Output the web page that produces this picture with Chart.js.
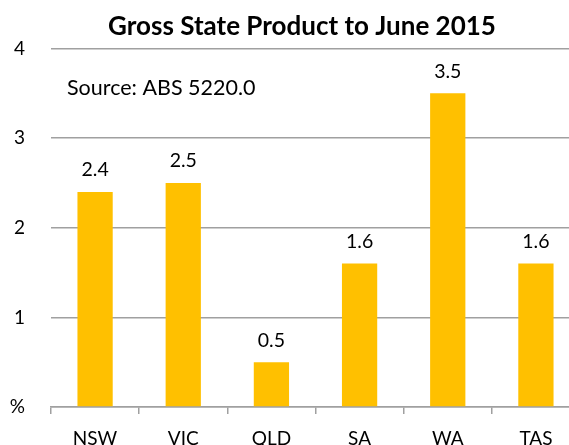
<!DOCTYPE html>
<html>
<head>
<meta charset="utf-8">
<script src="https://cdn.jsdelivr.net/npm/chart.js@4"></script>
<style>
  html, body { margin: 0; padding: 0; background: #fff; overflow: hidden; }
  #wrap { width: 582px; height: 445px; }
</style>
</head>
<body>
<div id="wrap"><canvas id="gsp" width="582" height="445"></canvas></div>
<script>
// Gross State Product to June 2015, % growth
const states = ['NSW', 'VIC', 'QLD', 'SA', 'WA', 'TAS'];
const growth = [2.4, 2.5, 0.5, 1.6, 3.5, 1.6];
const yTicks = [0, 1, 2, 3, 4];
const yTickText = ['%', '1', '2', '3', '4'];
const chartTitle = 'Gross State Product to June 2015';
const sourceNote = 'Source: ABS 5220.0';

const FONT = 'Lato, "Open Sans", sans-serif';
const GREY = '#a0a0a0';

// title, value labels above each bar, source note inside the plot
const labelsPlugin = {
  id: 'barLabels',
  afterDatasetsDraw(chart) {
    const ctx = chart.ctx;
    const meta = chart.getDatasetMeta(0);
    ctx.save();
    ctx.fillStyle = '#000';
    ctx.font = '19.5px ' + FONT;
    ctx.textAlign = 'center';
    ctx.textBaseline = 'bottom';
    meta.data.forEach((bar, i) => {
      ctx.fillText(growth[i].toFixed(1), bar.x, bar.y - 12);
    });
    const a = chart.chartArea;
    ctx.font = '21.5px ' + FONT;
    ctx.textAlign = 'left';
    ctx.textBaseline = 'middle';
    ctx.fillText(sourceNote, a.left + 16, a.top + 40);

    ctx.font = 'bold 26px ' + FONT;
    ctx.textAlign = 'center';
    ctx.fillText(chartTitle, 302, 27);
    ctx.restore();
  }
};

new Chart(document.getElementById('gsp'), {
  type: 'bar',
  data: {
    labels: states,
    datasets: [{
      data: growth,
      backgroundColor: '#FFC000',
      categoryPercentage: 1,
      barPercentage: 0.4
    }]
  },
  options: {
    responsive: false,
    animation: false,
    devicePixelRatio: 1,
    layout: { padding: { left: 0, right: 2, top: 48.5, bottom: 0 } },
    plugins: {
      legend: { display: false },
      tooltip: { enabled: false },
      title: { display: false }
    },
    scales: {
      x: {
        afterFit(scale) { scale.height = 38; },
        grid: { drawOnChartArea: false, drawTicks: true, tickLength: 7, color: GREY, lineWidth: 1.5, offset: true },
        border: { display: true, color: GREY, width: 1.5 },
        ticks: { color: '#000', font: { family: FONT, size: 19 }, padding: 13 }
      },
      y: {
        min: 0,
        max: 4,
        afterBuildTicks(scale) { scale.ticks = yTicks.map(v => ({ value: v })); },
        afterFit(scale) { scale.width = 51; },
        grid: { drawTicks: false, color: GREY, lineWidth: 1.5 },
        border: { display: false },
        ticks: {
          color: '#000',
          font: { family: FONT, size: 19 },
          padding: 26,
          callback: (v) => yTickText[yTicks.indexOf(v)]
        }
      }
    }
  },
  plugins: [labelsPlugin]
});
</script>
</body>
</html>
